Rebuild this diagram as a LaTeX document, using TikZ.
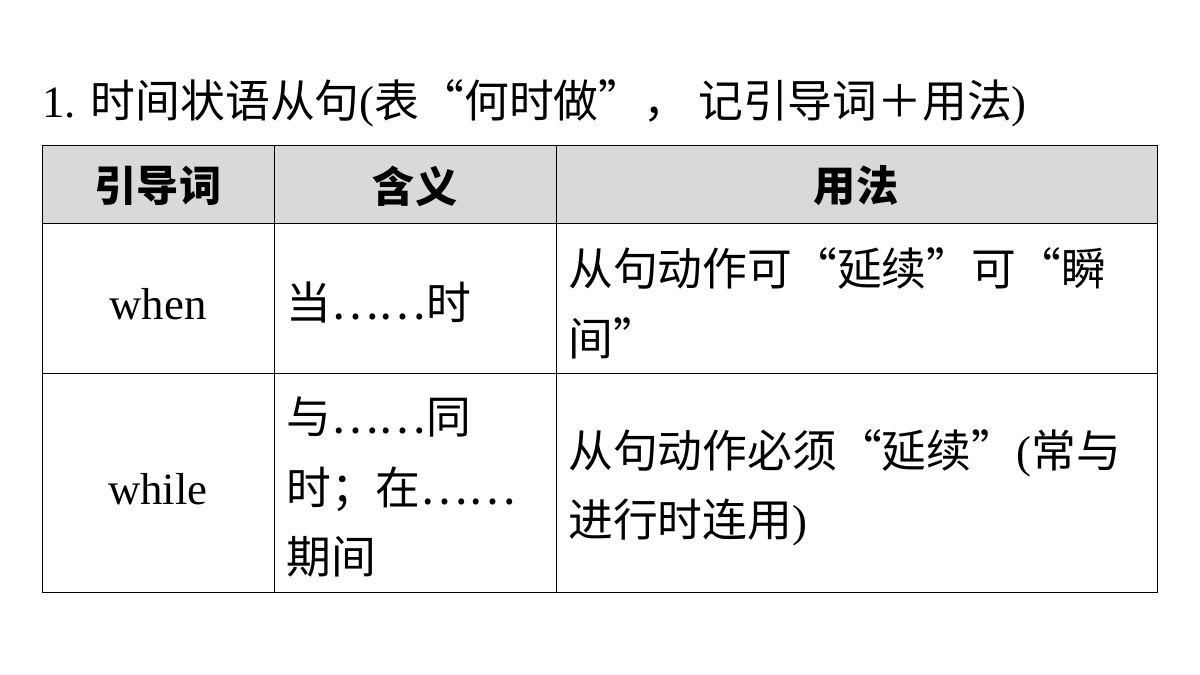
\documentclass[tikz,border=0pt]{standalone}
\usepackage{fontspec}
\setmainfont{Liberation Serif}
\newfontfamily\cjk{Noto Sans CJK SC}
\begin{document}
\begin{tikzpicture}[x=0.02cm,y=-0.02cm,
cell/.style={anchor=west,inner sep=0pt,font=\fontsize{25.5}{30}\selectfont},
head/.style={inner sep=0pt,font=\cjk\bfseries\fontsize{24}{28}\selectfont}]
\useasboundingbox (0,0) rectangle (1200,675);
\node[cell] (title) at (42,103) {1. {\cjk 时间状语从句}(\cjk 表“何时做”，\ 记引导词＋用法\rmfamily)};
\fill[gray!30] (42,145) rectangle (1157,223);
\draw[thin] (42,145) rectangle (1157,592);
\draw[thin] (42,223) -- (1157,223);
\draw[thin] (42,373) -- (1157,373);
\draw[thin] (274,145) -- (274,592);
\draw[thin] (556,145) -- (556,592);
\node[head] (h1) at (158,186) {引导词};
\node[head] (h2) at (415,186) {含义};
\node[head] (h3) at (856,186) {用法};
\node[cell,anchor=center] (w1) at (158,304) {when};
\node[cell] (m1) at (286,302) {\cjk 当……时};
\node[cell] (u1a) at (568,268) {\cjk 从句动作可“延续”可“瞬};
\node[cell] (u1b) at (568,338) {\cjk 间”};
\node[cell,anchor=center] (w2) at (158,489) {while};
\node[cell] (m2a) at (286,417) {\cjk 与……同};
\node[cell] (m2b) at (286,489) {\cjk 时；在……};
\node[cell] (m2c) at (286,557) {\cjk 期间};
\node[cell] (u2a) at (568,453) {{\cjk 从句动作必须“延续”}({\cjk 常与}};
\node[cell] (u2b) at (568,522) {{\cjk 进行时连用})};
\end{tikzpicture}
\end{document}
